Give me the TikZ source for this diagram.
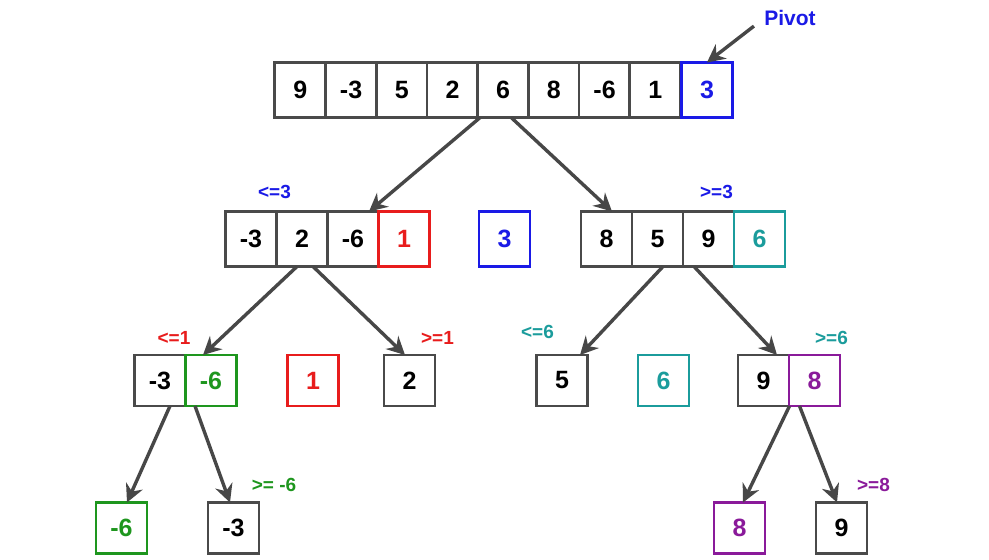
\documentclass[tikz,border=0pt]{standalone}
\usepackage{fontspec}
\setmainfont{Liberation Sans}
\usetikzlibrary{arrows.meta,positioning}
\definecolor{qsBlue}{HTML}{1A1AE6}
\definecolor{qsRed}{HTML}{E81C1C}
\definecolor{qsTeal}{HTML}{1B9C9C}
\definecolor{qsGreen}{HTML}{1E961E}
\definecolor{qsPurple}{HTML}{8A1A9A}
\definecolor{qsGray}{HTML}{4A4A4A}
\definecolor{qsArrow}{HTML}{474747}

\tikzset{
  cell/.style={draw=qsGray, line width=1.4pt, fill=white, minimum width=25.5pt,
    minimum height=27.5pt, inner sep=0pt, outer sep=0pt,
    font=\fontsize{12.5}{14}\selectfont\bfseries},
  lowcell/.style={cell, minimum height=25.5pt},
  tag/.style={font=\fontsize{9.5}{11}\selectfont\bfseries, inner sep=1pt},
  split/.style={draw=qsArrow, line width=1.7pt, -{Stealth[length=9pt,width=9pt,inset=3pt]}},
}

\begin{document}
\begin{tikzpicture}[x=0.5pt, y=-0.5pt]
    \useasboundingbox[fill=white] (0,0) rectangle (989,560);

    % input array, pivot is the last entry
    \foreach \v [count=\i] in {9,-3,5,2,6,8,-6,1}
      \node[cell] (t\i) at ({300.35+50.7*(\i-1)},90) {\v};
    \node[cell, draw=qsBlue, text=qsBlue] (t9) at (706.95,90) {3};
    \node[font=\fontsize{10.5}{12}\selectfont\bfseries, text=qsBlue, inner sep=1pt] (pivot) at (790,18) {Pivot};

    % first partition
    \node[cell] (l1) at (251,239) {-3};
    \node[cell, right=0pt of l1] (l2) {2};
    \node[cell, right=0pt of l2] (l3) {-6};
    \node[cell, right=0pt of l3, draw=qsRed, text=qsRed] (l4) {1};
    \node[cell, draw=qsBlue, text=qsBlue] (p1) at (504.5,239) {3};
    \node[cell] (r1) at (606.5,239) {8};
    \node[cell, right=0pt of r1] (r2) {5};
    \node[cell, right=0pt of r2] (r3) {9};
    \node[cell, right=0pt of r3, draw=qsTeal, text=qsTeal] (r4) {6};
    \node[tag, text=qsBlue] (lel) at (274.5,192) {<=3};
    \node[tag, text=qsBlue] (ger) at (716.5,192) {>=3};

    % second partition
    \node[lowcell] (m1) at (160,380.5) {-3};
    \node[lowcell, right=0pt of m1, draw=qsGreen, text=qsGreen] (m2) {-6};
    \node[lowcell, draw=qsRed, text=qsRed] (p2) at (313,380.5) {1};
    \node[lowcell] (m4) at (409.5,380.5) {2};
    \node[lowcell] (n1) at (562,380.5) {5};
    \node[lowcell, draw=qsTeal, text=qsTeal] (p3) at (663.5,380.5) {6};
    \node[lowcell] (n4) at (763.5,380.5) {9};
    \node[lowcell, right=0pt of n4, draw=qsPurple, text=qsPurple] (n5) {8};
    \node[tag, text=qsRed] (lem) at (174,338) {<=1};
    \node[tag, text=qsRed] (gem) at (437.5,338) {>=1};
    \node[tag, text=qsTeal] (len) at (537.5,332) {<=6};
    \node[tag, text=qsTeal] (gen) at (831.5,338) {>=6};

    % last partition
    \node[lowcell, draw=qsGreen, text=qsGreen] (b1) at (121.5,528) {-6};
    \node[lowcell] (b2) at (233.5,528) {-3};
    \node[lowcell, draw=qsPurple, text=qsPurple] (b3) at (739.5,528) {8};
    \node[lowcell] (b4) at (841.5,528) {9};
    \node[tag, text=qsGreen] (geb) at (274,485) {>= -6};
    \node[tag, text=qsPurple] (gec) at (873.5,485) {>=8};

    % arrows
    \draw[split] ([xshift=-4pt,yshift=1pt]pivot.south west) -- (t9.north);
    \draw[split] ([xshift=-11.5pt]t5.south) -- ([xshift=8pt]l3.north);
    \draw[split] ([xshift=4pt]t5.south) -- ([xshift=2.75pt]r1.north);
    \draw[split] ([xshift=-2.5pt]l2.south) -- ([xshift=-4pt]m2.north);
    \draw[split] ([xshift=5.5pt]l2.south) -- ([xshift=-2.25pt]m4.north);
    \draw[split] ([xshift=2.75pt]r2.south) -- ([xshift=9pt]n1.north);
    \draw[split] ([xshift=-7.25pt]r3.south) -- ([xshift=6.75pt]n4.north);
    \draw[split] ([xshift=5pt]m1.south) -- ([xshift=2.75pt]b1.north);
    \draw[split] ([xshift=-8pt]m2.south) -- ([xshift=-1.75pt]b2.north);
    \draw[split] ([xshift=-12.5pt]n5.south) -- ([xshift=1.75pt]b3.north);
    \draw[split] ([xshift=-7.5pt]n5.south) -- ([xshift=-2.25pt]b4.north);
  \end{tikzpicture}
\end{document}
